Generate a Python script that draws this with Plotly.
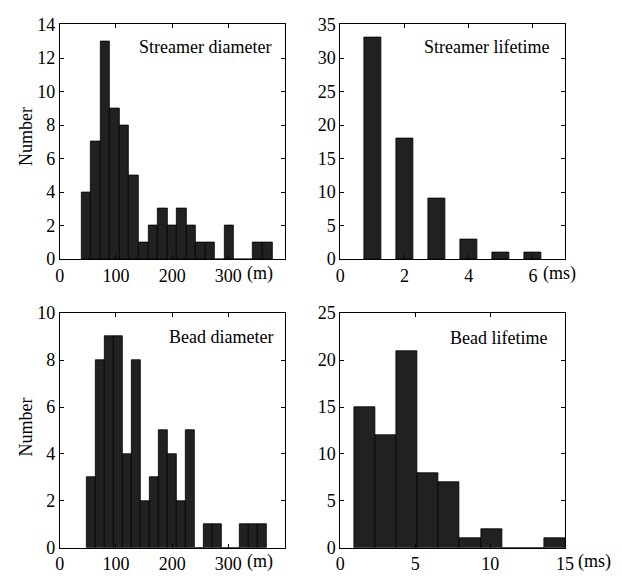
import numpy as np
import plotly.graph_objects as go

W, H = 622, 580

# ---------------- data ----------------
# Streamer diameter histogram: 20 equal bins
sd_counts = [4, 7, 13, 9, 8, 5, 1, 2, 3, 2, 3, 2, 1, 1, 0, 2, 0, 0, 1, 1]
sd_range = (38.7, 378.1)          # first / last bin edge (m)

# Streamer lifetime: 6 bars
sl_centers = [1, 2, 3, 4, 5, 6]   # ms
sl_counts = [33, 18, 9, 3, 1, 1]
sl_width = 0.53

# Bead diameter histogram: 20 equal bins
bd_counts = [3, 8, 9, 9, 4, 8, 2, 3, 5, 4, 2, 5, 0, 1, 1, 0, 0, 1, 1, 1]
bd_range = (47.9, 368.3)

# Bead lifetime histogram: 10 equal bins
bl_counts = [15, 12, 21, 8, 7, 1, 2, 0, 0, 1]
bl_range = (0.94, 15.0)

diam_ticks = [0, 100, 200, 300, 400]
diam_ticktext = ["0", "100", "200", "300", ""]
sl_ticks = [0, 2, 4, 6]
bl_ticks = [0, 5, 10, 15]

titles = ["Streamer diameter", "Streamer lifetime", "Bead diameter", "Bead lifetime"]


def bins(rng, counts):
    edges = np.linspace(rng[0], rng[1], len(counts) + 1)
    return (edges[:-1] + edges[1:]) / 2, (rng[1] - rng[0]) / len(counts)


FONT = "Liberation Serif, Times New Roman, serif"
FS = 18
BAR = "#212121"

# panel pixel boxes (left, right, top, bottom)
boxes = {
    1: (56, 286, 15, 258),
    2: (343, 573, 15, 258),
    3: (56, 286, 314, 557),
    4: (343, 573, 314, 557),
}


def xd(b):
    return [b[0] / W, b[1] / W]


def yd(b):
    return [1 - b[3] / H, 1 - b[2] / H]


fig = go.Figure()

c, w = bins(sd_range, sd_counts)
fig.add_trace(go.Bar(x=c, y=sd_counts, width=w, xaxis="x", yaxis="y",
                     marker=dict(color=BAR, line=dict(color="black", width=0.8))))
fig.add_trace(go.Bar(x=sl_centers, y=sl_counts, width=sl_width, xaxis="x2", yaxis="y2",
                     marker=dict(color=BAR, line=dict(color="black", width=0.8))))
c, w = bins(bd_range, bd_counts)
fig.add_trace(go.Bar(x=c, y=bd_counts, width=w, xaxis="x3", yaxis="y3",
                     marker=dict(color=BAR, line=dict(color="black", width=0.8))))
c, w = bins(bl_range, bl_counts)
fig.add_trace(go.Bar(x=c, y=bl_counts, width=w, xaxis="x4", yaxis="y4",
                     marker=dict(color=BAR, line=dict(color="black", width=0.8))))

common = dict(showline=True, linecolor="black", linewidth=1, mirror="ticks",
              ticks="inside", ticklen=4, tickcolor="black", tickwidth=1,
              showgrid=False, zeroline=False,
              tickfont=dict(family=FONT, size=FS, color="black"))

layout = dict(width=W, height=H, margin=dict(l=0, r=0, t=0, b=0),
              paper_bgcolor="white", plot_bgcolor="white", showlegend=False,
              bargap=0)

xcfg = {
    1: dict(range=[0, 400], tickvals=diam_ticks, ticktext=diam_ticktext),
    2: dict(range=[0, 7], tickvals=sl_ticks),
    3: dict(range=[0, 400], tickvals=diam_ticks, ticktext=diam_ticktext),
    4: dict(range=[0, 15], tickvals=bl_ticks),
}
ycfg = {
    1: dict(range=[0, 14], dtick=2),
    2: dict(range=[0, 35], dtick=5),
    3: dict(range=[0, 10], dtick=2),
    4: dict(range=[0, 25], dtick=5),
}
for i in range(1, 5):
    sx = "" if i == 1 else str(i)
    layout["xaxis" + sx] = dict(domain=xd(boxes[i]), anchor="y" + sx, **xcfg[i], **common)
    layout["yaxis" + sx] = dict(domain=yd(boxes[i]), anchor="x" + sx, **ycfg[i], **common)

fig.update_layout(**layout)

ann = []
title_pos = [(0.948, 0.905), (0.939, 0.905), (0.957, 0.90), (0.93, 0.893)]
for i, (t, (tx, ty)) in enumerate(zip(titles, title_pos), start=1):
    sx = "" if i == 1 else str(i)
    ann.append(dict(text=t, xref=("x" + sx + " domain"), yref=("y" + sx + " domain"),
                    x=tx, y=ty, xanchor="right", yanchor="middle", showarrow=False,
                    font=dict(family=FONT, size=FS, color="black")))

# unit labels after the last tick label (pixel positions -> paper)
units = [("(m)", 246, 273), ("(ms)", 548, 273), ("(m)", 246, 571), ("(ms)", 584, 571)]
for t, px, py in units:
    ann.append(dict(text=t, xref="paper", yref="paper", x=px / W, y=1 - py / H,
                    xanchor="left", yanchor="middle", showarrow=False,
                    font=dict(family=FONT, size=FS, color="black")))

# y-axis titles
for yc in (131, 432):
    ann.append(dict(text="Number", xref="paper", yref="paper", x=22 / W, y=1 - yc / H,
                    textangle=-90, showarrow=False, xanchor="center", yanchor="middle",
                    font=dict(family=FONT, size=FS, color="black")))

fig.update_layout(annotations=ann)
fig.write_html("out.html")
